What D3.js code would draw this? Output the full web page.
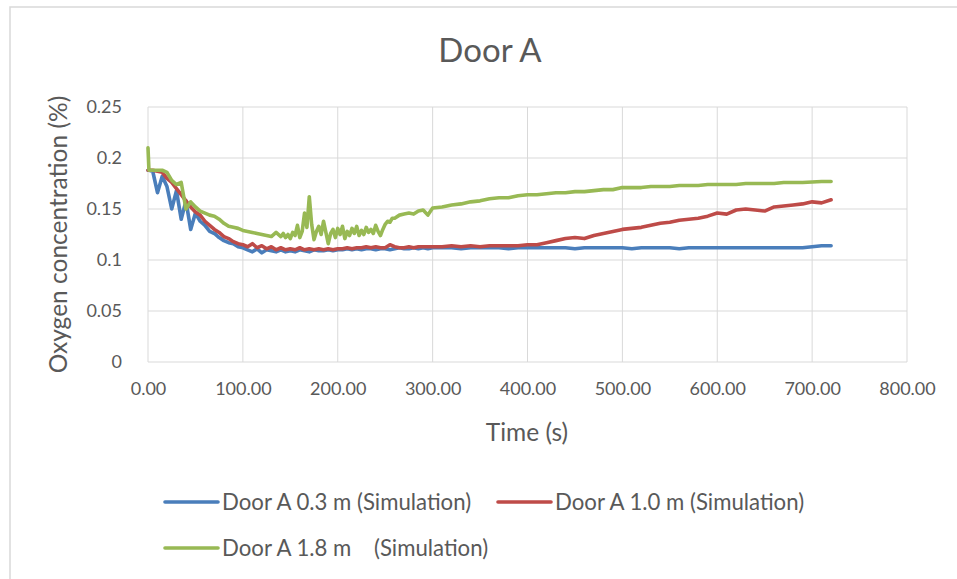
<!DOCTYPE html>
<html><head><meta charset="utf-8">
<script src="https://cdn.jsdelivr.net/npm/d3@7"></script>
<style>body{margin:0;background:#fff;} text{font-family:Lato,"Open Sans",sans-serif;fill:#595959;}</style>
</head><body>
<svg id="c" width="957" height="579"></svg>
<script>
const title = "Door A";
const xTicks = [0,100,200,300,400,500,600,700,800];
const yTicks = [0,0.05,0.1,0.15,0.2,0.25];
const seriesNames = ["Door A 0.3 m (Simulation)","Door A 1.0 m (Simulation)","Door A 1.8 m\u00a0\u00a0\u00a0\u00a0(Simulation)"];
const seriesColors = ["#4a7ebb","#be4b48","#98b954"];

const time = [0,1,5,10,15,20,25,30,35,40,45,50,55,60,65,70,75,80,85,90,95,100,
  105,110,115,120,125,130,135,140,145,150,155,160,165,170,175,180,185,190,195,200,
  205,210,215,220,225,230,235,240,245,250,255,260,265,270,275,280,285,290,295,300,
  310,320,330,340,350,360,370,380,390,400,410,420,430,440,450,460,470,480,490,500,
  510,520,530,540,550,560,570,580,590,600,610,620,630,640,650,660,670,680,690,700,710,720];

const door03 = [0.188,0.188,0.187,0.166,0.182,0.172,0.150,0.168,0.140,0.158,0.130,0.146,0.138,0.134,0.128,0.126,0.122,0.119,0.117,0.116,0.113,0.112,
  0.110,0.108,0.111,0.107,0.110,0.109,0.108,0.110,0.108,0.109,0.108,0.110,0.109,0.108,0.110,0.109,0.109,0.110,0.109,0.110,
  0.110,0.111,0.110,0.111,0.110,0.111,0.111,0.110,0.111,0.111,0.110,0.111,0.112,0.111,0.111,0.112,0.111,0.112,0.111,0.112,
  0.112,0.112,0.111,0.112,0.112,0.112,0.112,0.111,0.112,0.112,0.112,0.112,0.112,0.112,0.111,0.112,0.112,0.112,0.112,0.112,
  0.111,0.112,0.112,0.112,0.112,0.111,0.112,0.112,0.112,0.112,0.112,0.112,0.112,0.112,0.112,0.112,0.112,0.112,0.112,0.113,0.114,0.114];

const door10 = [0.188,0.188,0.188,0.187,0.186,0.180,0.176,0.170,0.164,0.158,0.152,0.147,0.144,0.138,0.134,0.130,0.127,0.123,0.121,0.118,0.116,0.115,
  0.113,0.116,0.112,0.114,0.111,0.113,0.110,0.112,0.110,0.111,0.110,0.112,0.110,0.111,0.110,0.111,0.110,0.111,0.110,0.111,
  0.111,0.112,0.111,0.112,0.112,0.113,0.112,0.113,0.112,0.112,0.115,0.113,0.112,0.112,0.113,0.112,0.113,0.113,0.113,0.113,
  0.113,0.114,0.113,0.114,0.113,0.114,0.114,0.114,0.114,0.115,0.115,0.117,0.119,0.121,0.122,0.121,0.124,0.126,0.128,0.130,
  0.131,0.132,0.134,0.136,0.137,0.139,0.140,0.141,0.143,0.146,0.145,0.149,0.150,0.149,0.148,0.152,0.153,0.154,0.155,0.157,0.156,0.159];

// the 1.8 m series is sampled more densely through its noisy stretch
const time18 = [0,1,5,10,15,20,25,30,35,40,45,50,55,60,65,70,75,80,85,90,95,100,
  105,110,115,120,125,130,135,
  140,142.5,145,147.5,150,152.5,155,157.5,160,162.5,165,167.5,170,172.5,175,177.5,180,182.5,185,187.5,
  190,192.5,195,197.5,200,202.5,205,207.5,210,212.5,215,217.5,220,222.5,225,227.5,230,232.5,235,237.5,
  240,242.5,245,247.5,250,252.5,255,257.5,260,
  265,270,275,280,285,290,295,300,
  310,320,330,340,350,360,370,380,390,400,410,420,430,440,450,460,470,480,490,500,
  510,520,530,540,550,560,570,580,590,600,610,620,630,640,650,660,670,680,690,700,710,720];

const door18 = [0.210,0.188,0.188,0.188,0.188,0.186,0.178,0.174,0.176,0.150,0.157,0.152,0.148,0.146,0.144,0.143,0.140,0.136,0.133,0.132,0.131,0.129,
  0.128,0.127,0.126,0.125,0.124,0.123,0.127,
  0.123,0.126,0.122,0.125,0.121,0.127,0.124,0.134,0.122,0.128,0.146,0.132,0.162,0.135,0.120,0.128,0.133,0.125,0.138,0.127,
  0.116,0.126,0.130,0.122,0.131,0.125,0.133,0.121,0.128,0.124,0.131,0.126,0.133,0.124,0.129,0.125,0.132,0.127,0.130,0.126,
  0.134,0.128,0.124,0.130,0.135,0.138,0.137,0.141,0.141,
  0.144,0.145,0.146,0.145,0.148,0.149,0.144,0.151,
  0.152,0.154,0.155,0.157,0.158,0.160,0.161,0.161,0.163,0.164,0.164,0.165,0.166,0.166,0.167,0.167,0.168,0.169,0.169,0.171,
  0.171,0.171,0.172,0.172,0.172,0.173,0.173,0.173,0.174,0.174,0.174,0.174,0.175,0.175,0.175,0.175,0.176,0.176,0.176,0.1765,0.177,0.177];

const allSeries = [[time, door03], [time, door10], [time18, door18]];

const svg = d3.select("#c");
svg.append("rect").attr("x",10).attr("y",7).attr("width",960).attr("height",600)
  .attr("fill","#fff").attr("stroke","#d9d9d9").attr("stroke-width",1.5);

const x = d3.scaleLinear().domain([0,800]).range([148,907]);
const y = d3.scaleLinear().domain([0,0.25]).range([362,107]);

svg.append("g").selectAll("line").data(yTicks).join("line")
  .attr("x1",x(0)).attr("x2",x(800)).attr("y1",d=>y(d)).attr("y2",d=>y(d))
  .attr("stroke","#d9d9d9").attr("stroke-width",1);
svg.append("g").selectAll("line").data(xTicks).join("line")
  .attr("x1",d=>x(d)).attr("x2",d=>x(d)).attr("y1",y(0)).attr("y2",y(0.25))
  .attr("stroke","#d9d9d9").attr("stroke-width",1);

const xAxis = svg.append("g").attr("transform",`translate(0,${y(0)})`)
  .call(d3.axisBottom(x).tickValues(xTicks).tickFormat(d3.format(".2f")).tickSize(0).tickPadding(20));
const yAxis = svg.append("g").attr("transform",`translate(${x(0)},0)`)
  .call(d3.axisLeft(y).tickValues(yTicks).tickFormat(d=>d3.format("")(+d.toFixed(2))).tickSize(0).tickPadding(26));
[xAxis,yAxis].forEach(a=>{a.select(".domain").remove();
  a.selectAll("text").attr("font-family","Lato").attr("font-size",18).attr("fill","#595959");});

allSeries.forEach(([t,s],k)=>{
  const line = d3.line().x((d,i)=>x(t[i])).y(d=>y(d));
  svg.append("path").datum(s).attr("d",line).attr("fill","none")
    .attr("stroke",seriesColors[k]).attr("stroke-width",3.6)
    .attr("stroke-linejoin","round").attr("stroke-linecap","round");
});

svg.append("text").attr("x",490).attr("y",62).attr("text-anchor","middle")
  .attr("font-size",33).text(title);
svg.append("text").attr("x",527).attr("y",441).attr("text-anchor","middle")
  .attr("font-size",24.5).text("Time (s)");
svg.append("text").attr("transform",`translate(67,${(y(0)+y(0.25))/2}) rotate(-90)`)
  .attr("text-anchor","middle").attr("font-size",24.5).text("Oxygen concentration (%)");

const legPos = [[165,502],[498,502],[165,548]];
seriesNames.forEach((n,k)=>{
  const [lx,ly] = legPos[k];
  svg.append("line").attr("x1",lx).attr("x2",lx+53).attr("y1",ly).attr("y2",ly)
    .attr("stroke",seriesColors[k]).attr("stroke-width",3.6).attr("stroke-linecap","round");
  svg.append("text").attr("x",lx+57).attr("y",ly+7.5).attr("font-size",22.2).text(n);
});
</script>
</body></html>
